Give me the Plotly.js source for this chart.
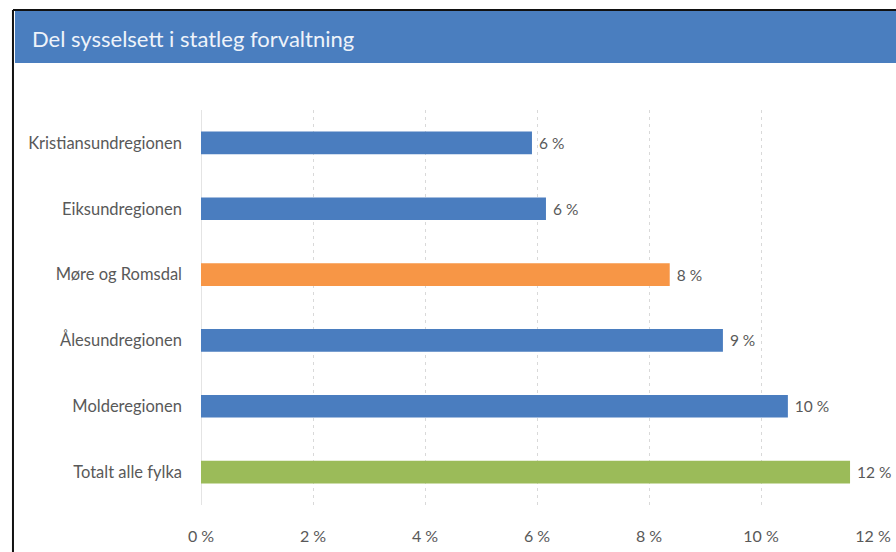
<!DOCTYPE html>
<html>
<head>
<meta charset="utf-8">
<script src="https://cdn.plot.ly/plotly-3.0.1.min.js"></script>
<style>html,body{margin:0;padding:0;background:#fff;}#chart{width:896px;height:552px;}</style>
</head>
<body>
<div id="chart"></div>
<script>
const categories = ["Kristiansundregionen", "Eiksundregionen", "Møre og Romsdal", "Ålesundregionen", "Molderegionen", "Totalt alle fylka"];
const values = [5.91, 6.16, 8.37, 9.32, 10.48, 11.59];
const barColors = ["#4a7dbf", "#4a7dbf", "#f79646", "#4a7dbf", "#4a7dbf", "#9bbb59"];
const tickValues = [0, 2, 4, 6, 8, 10, 12];
const tickLabels = ["0 %", "2 %", "4 %", "6 %", "8 %", "10 %", "12 %"];
const chartTitle = "Del sysselsett i statleg forvaltning";

const font = "Lato, 'Open Sans', sans-serif";

const trace = {
  type: "bar",
  orientation: "h",
  y: categories,
  x: values,
  marker: { color: barColors, line: { width: 0 } },
  texttemplate: " %{x:.0f} %",
  textposition: "outside",
  textfont: { family: font, size: 15.5, color: "#595959" },
  cliponaxis: false,
  hoverinfo: "none"
};

const layout = {
  width: 896, height: 552,
  margin: { l: 201, r: 23, t: 110, b: 47 },
  paper_bgcolor: "#ffffff",
  plot_bgcolor: "#ffffff",
  showlegend: false,
  bargap: 0.655,
  font: { family: font, size: 15, color: "#595959" },
  xaxis: {
    range: [0, 12],
    tickvals: tickValues,
    ticktext: tickLabels,
    showgrid: true,
    gridcolor: "#d9d9d9",
    griddash: "3px,4px",
    gridwidth: 1,
    zeroline: true,
    zerolinecolor: "#e4e4e4",
    zerolinewidth: 1,
    showline: false,
    ticks: "",
    ticklabelstandoff: 20,
    tickfont: { family: font, size: 16, color: "#595959" },
    fixedrange: true
  },
  yaxis: {
    autorange: "reversed",
    showgrid: false,
    zeroline: false,
    showline: false,
    ticks: "",
    ticklabelstandoff: 18,
    tickfont: { family: font, size: 16.5, color: "#595959" },
    fixedrange: true
  },
  shapes: [
    { type: "rect", xref: "paper", yref: "paper", x0: -0.2768, x1: 1.05, y0: 1.119, y1: 1.2506,
      fillcolor: "#4a7ebf", line: { width: 0 }, layer: "below" },
    { type: "line", xref: "paper", yref: "paper", x0: -0.2798, x1: 1.05, y0: 1.2532, y1: 1.2532,
      line: { color: "#111111", width: 2 } },
    { type: "line", xref: "paper", yref: "paper", x0: -0.2798, x1: -0.2798, y0: -0.2, y1: 1.2532,
      line: { color: "#111111", width: 2 } }
  ],
  annotations: [
    { text: chartTitle, xref: "paper", yref: "paper", x: -0.255, y: 1.182,
      xanchor: "left", yanchor: "middle", showarrow: false,
      font: { family: font, size: 22, color: "#eef3fa" } }
  ]
};

Plotly.newPlot("chart", [trace], layout, { displayModeBar: false, staticPlot: true });
</script>
</body>
</html>
